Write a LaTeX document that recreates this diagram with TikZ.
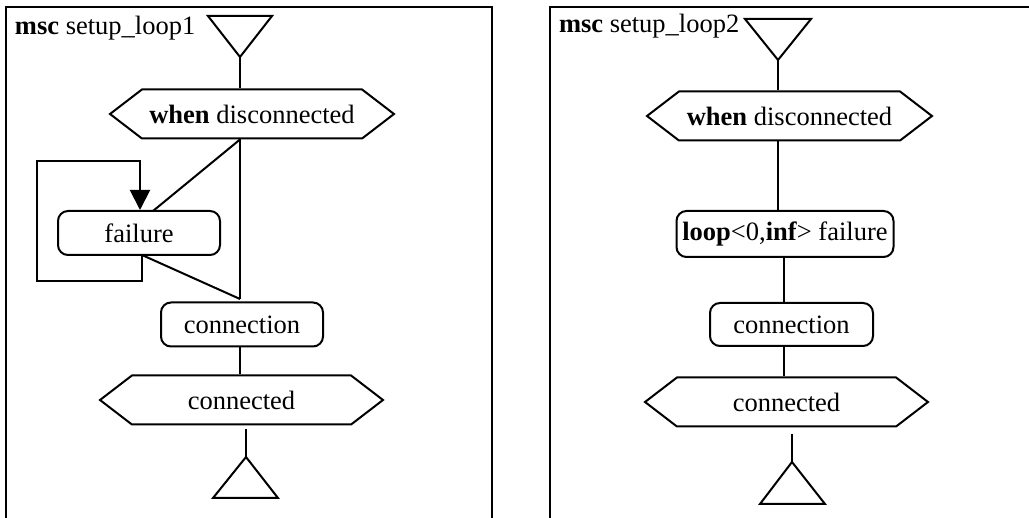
\documentclass[tikz,border=0pt]{standalone}
\usepackage{fontspec}
\setmainfont{Liberation Serif}
\usetikzlibrary{positioning, arrows.meta, shapes.symbols}

\begin{document}
\begin{tikzpicture}[
    x=1pt, y=-1pt, line width=2pt,
    every node/.style={font=\fontsize{26.5}{31}\selectfont, inner sep=0pt},
    cond/.style={draw, signal, signal to=west and east, signal pointer angle=75,
      minimum height=49, minimum width=#1},
    action/.style={draw, rounded corners=10pt, minimum height=44, minimum width=#1},
    arr/.style={-{Triangle[length=20pt, width=20pt]}}
]
  \useasboundingbox (0,0) rectangle (1029,518);

  % Frames
  \draw (6,518) -- (6,7) -- (492,7) -- (492,518);
  \draw (550,518) -- (550,7) -- (1029,7);

  % setup_loop1 (left)
  \node[anchor=base west] (title1) at (14,35) {\textbf{msc} setup\_loop1};
  \draw (208,16) -- (272,16) -- (240,57) -- cycle;
  \coordinate (s1) at (240,57);
  \node[cond=284] (w1) at (252,114) {\textbf{when} disconnected};
  \node[action=162] (f1) at (139,233) {failure};
  \node[action=162] (c1) at (242,324.5) {connection};
  \node[cond=283] (cd1) at (241.5,400) {connected};
  \coordinate (lb1) at (240,299);
  \coordinate (e1) at (246,457);
  \draw (e1) -- (213,498) -- (278,498) -- cycle;

  \draw (s1) -- (s1 |- w1.north);
  \draw (s1 |- w1.south) -- (lb1);
  \draw (s1 |- w1.south) -- (153,211);
  \draw (142,255) -- (lb1);
  \draw (142,255) -- (142,281) -- (37,281) -- (37,161) -- (140,161);
  \draw[arr] (140,160) -- (140,0 |- f1.north);
  \draw (s1 |- c1.south) -- (s1 |- cd1.north);
  \draw (e1 |- 0,429) -- (e1);

  % setup_loop2 (right)
  \node[anchor=base west] (title2) at (558,33) {\textbf{msc} setup\_loop2};
  \draw (745,19) -- (811,19) -- (778,60) -- cycle;
  \coordinate (s2) at (778,60);
  \node[cond=285] (w2) at (789.5,116) {\textbf{when} disconnected};
  \node[action=217, minimum height=46] (lp) at (785,234) {\textbf{loop}<0,\textbf{inf}> failure};
  \node[action=163, minimum height=43] (c2) at (791.5,324.5) {connection};
  \node[cond=283] (cd2) at (786.5,402) {connected};
  \coordinate (e2) at (792,462);
  \draw (e2) -- (760,504) -- (825,504) -- cycle;

  \draw (s2) -- (s2 |- w2.north);
  \draw (s2 |- w2.south) -- (s2 |- lp.north);
  \draw (784,0 |- lp.south) -- (784,0 |- c2.north);
  \draw (784,0 |- c2.south) -- (784,0 |- cd2.north);
  \draw (e2 |- 0,434) -- (e2);
\end{tikzpicture}
\end{document}
